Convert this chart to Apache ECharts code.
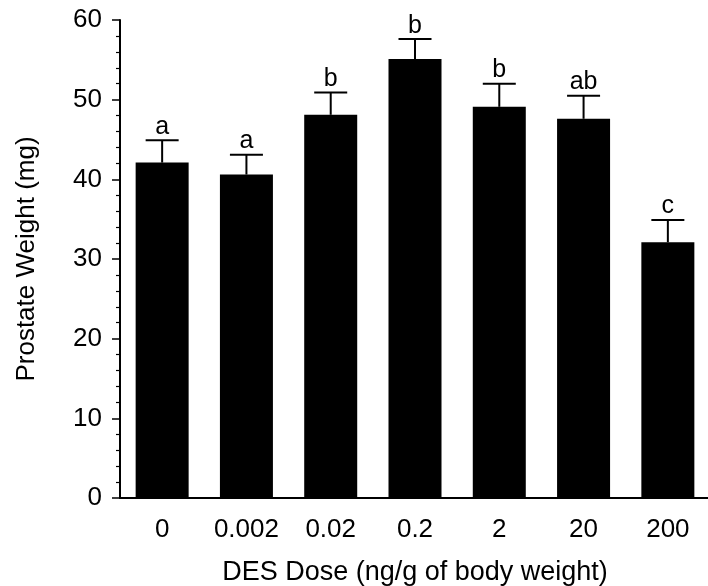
<!DOCTYPE html>
<html>
<head>
<meta charset="utf-8">
<script src="https://cdn.jsdelivr.net/npm/echarts@6/dist/echarts.min.js"></script>
<style>
html,body{margin:0;padding:0;background:#fff;}
#main{width:708px;height:586px;}
</style>
</head>
<body>
<div id="main"></div>
<script>
var categories = ['0', '0.002', '0.02', '0.2', '2', '20', '200'];
var meanWeight = [42.1, 40.6, 48.1, 55.1, 49.1, 47.6, 32.1];
var semWeight = [2.8, 2.5, 2.8, 2.5, 2.9, 2.9, 2.8];
var groupLetters = ['a', 'a', 'b', 'b', 'b', 'ab', 'c'];
var yTicks = [0, 10, 20, 30, 40, 50, 60];

var FONT = '"Liberation Sans", Arial, Helvetica, sans-serif';

var errData = categories.map(function (c, i) {
  return [i, meanWeight[i], meanWeight[i] + semWeight[i]];
});

var chart = echarts.init(document.getElementById('main'));
chart.setOption({
  animation: false,
  backgroundColor: '#fff',
  grid: { left: 120, top: 20, width: 590, height: 478, containLabel: false, outerBoundsMode: 'none' },
  xAxis: {
    type: 'category',
    data: categories,
    name: 'DES Dose (ng/g of body weight)',
    nameLocation: 'middle',
    nameGap: 61,
    nameTextStyle: { fontFamily: FONT, fontSize: 27, color: '#000' },
    axisLine: { lineStyle: { color: '#000', width: 2 } },
    axisTick: { alignWithLabel: true, interval: 0, length: 10, lineStyle: { color: '#000', width: 1.5 } },
    axisLabel: { interval: 0, hideOverlap: false, fontFamily: FONT, fontSize: 26, color: '#000', margin: 19 },
    splitLine: { show: false }
  },
  yAxis: {
    type: 'value',
    min: yTicks[0],
    max: yTicks[yTicks.length - 1],
    interval: yTicks[1] - yTicks[0],
    name: 'Prostate Weight (mg)',
    nameLocation: 'middle',
    nameGap: 80,
    nameTextStyle: { fontFamily: FONT, fontSize: 26, color: '#000' },
    axisLine: { show: true, lineStyle: { color: '#000', width: 2 } },
    axisTick: { show: true, length: 8, lineStyle: { color: '#000', width: 1.5 } },
    minorTick: { show: true, splitNumber: 5, length: 4, lineStyle: { color: '#000', width: 1.2 } },
    axisLabel: { fontFamily: FONT, fontSize: 26, color: '#000', margin: 18 },
    splitLine: { show: false }
  },
  series: [
    {
      type: 'bar',
      data: meanWeight,
      barWidth: 53,
      itemStyle: { color: '#000' },
      z: 2
    },
    {
      type: 'custom',
      data: errData,
      z: 3,
      renderItem: function (params, api) {
        var idx = api.value(0);
        var base = api.coord([idx, api.value(1)]);
        var top = api.coord([idx, api.value(2)]);
        var half = 16.5;
        var style = { stroke: '#000', lineWidth: 2 };
        return {
          type: 'group',
          children: [
            { type: 'line', shape: { x1: base[0], y1: base[1], x2: top[0], y2: top[1] }, style: style },
            { type: 'line', shape: { x1: top[0] - half, y1: top[1], x2: top[0] + half, y2: top[1] }, style: style },
            {
              type: 'text',
              x: top[0], y: top[1] - 1,
              style: {
                text: groupLetters[params.dataIndex],
                fontFamily: FONT, fontSize: 25, fill: '#000',
                align: 'center', verticalAlign: 'bottom'
              }
            }
          ]
        };
      }
    }
  ]
});
</script>
</body>
</html>
